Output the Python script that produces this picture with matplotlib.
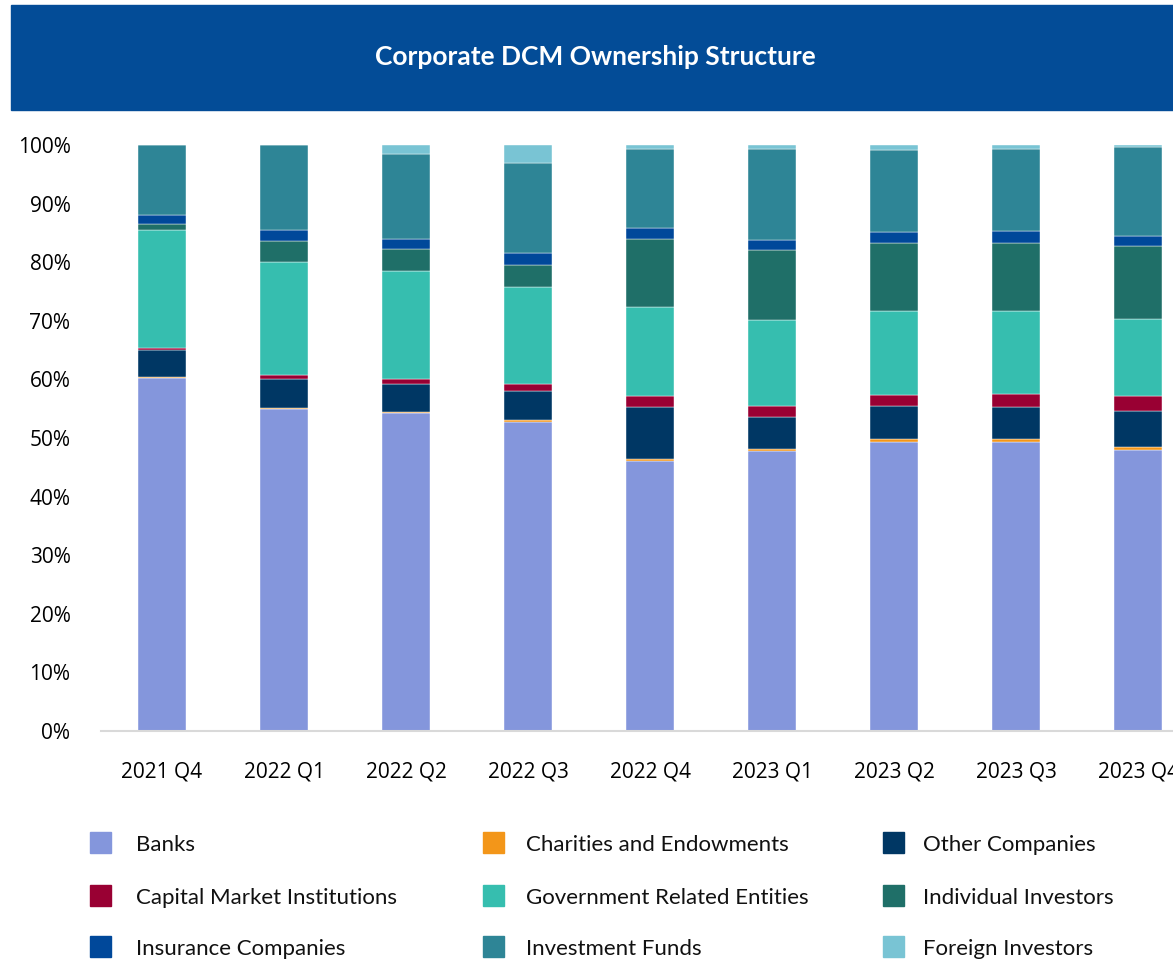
import numpy as np
import matplotlib.pyplot as plt
from matplotlib.patches import Rectangle

# Dati (percentuali per trimestre)
quarters = ['2021 Q4', '2022 Q1', '2022 Q2', '2022 Q3', '2022 Q4',
            '2023 Q1', '2023 Q2', '2023 Q3', '2023 Q4']

banks = [60.3, 55.0, 54.2, 52.8, 46.0, 47.7, 49.4, 49.4, 47.9]
charities = [0.1, 0.2, 0.3, 0.3, 0.4, 0.5, 0.4, 0.4, 0.6]
other_companies = [4.6, 4.8, 4.8, 4.85, 8.95, 5.3, 5.7, 5.55, 6.05]
capital_market = [0.3, 0.75, 0.8, 1.2, 1.85, 2.0, 1.9, 2.15, 2.65]
government = [20.2, 19.25, 18.4, 16.65, 15.2, 14.6, 14.3, 14.2, 13.1]
individual = [1.0, 3.7, 3.7, 3.7, 11.6, 11.9, 11.6, 11.6, 12.5]
insurance = [1.6, 1.8, 1.8, 2.0, 1.9, 1.8, 1.9, 2.0, 1.7]
investment_funds = [11.9, 14.5, 14.5, 15.4, 13.4, 15.5, 13.9, 14.0, 15.2]
foreign = [0.0, 0.0, 1.5, 3.1, 0.7, 0.7, 0.9, 0.7, 0.3]

series_names = ['Banks', 'Charities and Endowments', 'Other Companies',
                'Capital Market Institutions', 'Government Related Entities',
                'Individual Investors', 'Insurance Companies',
                'Investment Funds', 'Foreign Investors']
series_values = [banks, charities, other_companies, capital_market, government,
                 individual, insurance, investment_funds, foreign]
colori = ['#8496DC', '#F39619', '#003764', '#990033', '#36BEAF',
          '#1F6F68', '#00489A', '#2E8596', '#79C4D4']

font_testo = ['Liberation Sans Narrow', 'Lato', 'DejaVu Sans']
font_assi = ['Open Sans', 'DejaVu Sans']

fig = plt.figure(figsize=(11.73, 9.64), dpi=100)

# Banner del titolo
fig.patches.append(Rectangle((11 / 1173, 1 - 110 / 964), 1 - 11 / 1173, 105 / 964,
                             transform=fig.transFigure, color='#034C97', zorder=0))
fig.text(595 / 1173, 1 - 57 / 964, 'Corporate DCM Ownership Structure',
         ha='center', va='center', color='white', fontsize=19, fontweight='bold',
         family=font_testo)

ax = fig.add_axes([101 / 1173, 233 / 964, 1098 / 1173, 586 / 964])
x = np.arange(len(quarters))
bottom = np.zeros(len(quarters))
for nome, valori, col in zip(series_names, series_values, colori):
    ax.bar(x, valori, bottom=bottom, width=0.4, color=col, label=nome,
           edgecolor='white', linewidth=0.3)
    bottom += np.array(valori)

ax.set_xlim(-0.5, len(quarters) - 0.5)
ax.set_ylim(0, 100)
ax.set_yticks(np.arange(0, 101, 10))
ax.set_yticklabels([f'{v}%' for v in range(0, 101, 10)])
ax.set_xticks(x)
ax.set_xticklabels(quarters)
for lab in ax.get_xticklabels() + ax.get_yticklabels():
    lab.set_family(font_assi)
    lab.set_fontsize(15)
ax.tick_params(axis='both', length=0)
ax.tick_params(axis='x', pad=22)
ax.tick_params(axis='y', pad=22)
for s in ['top', 'right', 'left']:
    ax.spines[s].set_visible(False)
ax.spines['bottom'].set_color('#D9D9D9')
ax.spines['bottom'].set_linewidth(1.5)

# Legenda manuale a 3 colonne
col_x = [90, 483, 883]
row_y = [842, 895, 946]
text_dx = [46, 43, 40]
for i, (nome, col) in enumerate(zip(series_names, colori)):
    r, c = divmod(i, 3)
    px, py = col_x[c], row_y[r]
    fig.patches.append(Rectangle((px / 1173, 1 - (py + 11) / 964), 21 / 1173, 21 / 964,
                                 transform=fig.transFigure, color=col))
    fig.text((px + text_dx[c]) / 1173, 1 - (py + 3) / 964, nome, ha='left', va='center',
             fontsize=16, family=font_testo, color='#111111')

fig.savefig('out.png', dpi=100)
